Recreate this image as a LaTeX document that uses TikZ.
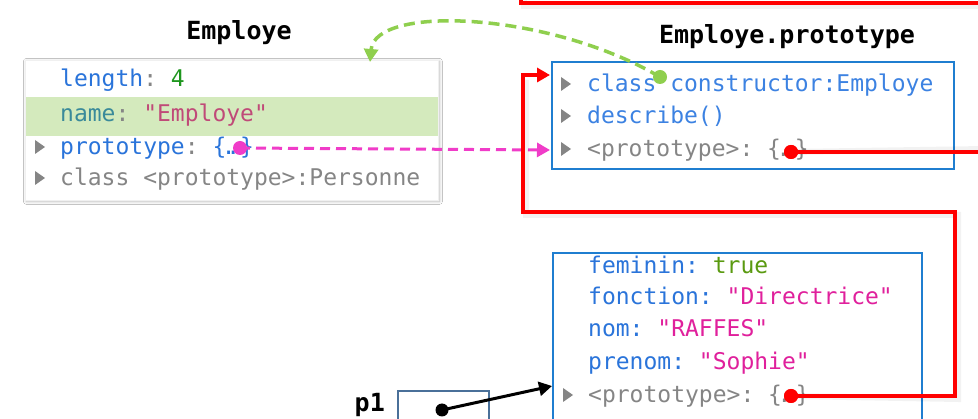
\documentclass[tikz,border=0pt]{standalone}
\usepackage{fontspec}
\setmonofont{DejaVu Sans Mono}
\usetikzlibrary{arrows.meta,shadows.blur}
\definecolor{propblue}{HTML}{2A74DA}
\definecolor{lightblue}{HTML}{3C82E2}
\definecolor{numgreen}{HTML}{1E961E}
\definecolor{truegreen}{HTML}{5A9A10}
\definecolor{strpink}{HTML}{C04A78}
\definecolor{strmag}{HTML}{E0209C}
\definecolor{teal}{HTML}{3A8A9A}
\definecolor{graytxt}{HTML}{858585}
\definecolor{hlgreen}{HTML}{D4EABD}
\definecolor{boxblue}{HTML}{1F7ED0}
\definecolor{p1blue}{HTML}{4A7099}
\definecolor{arrgreen}{HTML}{8FCF4E}
\definecolor{arrmag}{HTML}{F03CC8}
\definecolor{arrred}{HTML}{FF0000}
\begin{document}
\begin{tikzpicture}[x=1pt,y=-1pt,
  code/.style={font=\ttfamily\fontsize{23}{28}\selectfont, inner sep=0pt, anchor=base west},
  ttl/.style={font=\ttfamily\bfseries\fontsize{25}{30}\selectfont, inner sep=0pt},
  tri/.style={fill=graytxt},
  dot/.style={circle, inner sep=0pt, minimum size=14pt},
  objbox/.style={draw=boxblue, line width=1.8pt, fill=white, anchor=north west},
  redline/.style={draw=arrred, line width=4pt},
  redshadow/.style={draw=black, opacity=0.05, line width=6pt},
  tip/.style={-{Triangle[length=13pt,width=14pt]}}
]
\useasboundingbox (0,0) rectangle (978,419);
\fill[white] (0,0) rectangle (978,419);

% top red line (cropped frame)
\draw[redshadow] (524,-10) -- (524,6) -- (985,6);
\draw[redline] (521,-10) -- (521,3) -- (985,3);

% Employe box
\node[ttl] (ttlemp) at (239,33) {Employe};
\node[draw=gray!12, fill=white, line width=0.8pt, anchor=north west, minimum width=413pt, minimum height=140pt,
  blur shadow={shadow xshift=1pt, shadow yshift=-1pt, shadow blur radius=3pt, shadow opacity=30}] (empbox) at (25,60) {};
\fill[hlgreen] (25.5,97) rectangle (437.5,136);
\node[code] (e1) at (60,87) {\textcolor{propblue}{length}\textcolor{graytxt}{:} \textcolor{numgreen}{4}};
\node[code] (e2) at (60,122) {\textcolor{teal}{name}\textcolor{graytxt}{:} \textcolor{strpink}{"Employe"}};
\node[code] (e3) at (60,155) {\textcolor{propblue}{prototype}\textcolor{graytxt}{:} \textcolor{propblue}{\{…\}}};
\node[code] (e4) at (60,186) {\textcolor{graytxt}{class <prototype>:Personne}};
\fill[tri] (35,140) -- (45,147) -- (35,154) -- cycle;
\fill[tri] (35,171) -- (45,178) -- (35,185) -- cycle;

% Employe.prototype box
\node[ttl] (ttlproto) at (787,37) {Employe.prototype};
\node[objbox, minimum width=402pt, minimum height=107pt] (protobox) at (551,61) {};
\node[code] (p1a) at (587,92) {\textcolor{lightblue}{class constructor:Employe}};
\node[code] (p1b) at (587,124) {\textcolor{lightblue}{describe()}};
\node[code] (p1c) at (587,157) {\textcolor{graytxt}{<prototype>: \{…\}}};
\fill[tri] (561,77) -- (571,84) -- (561,91) -- cycle;
\fill[tri] (561,109) -- (571,116) -- (561,123) -- cycle;
\fill[tri] (561,142) -- (571,149) -- (561,156) -- cycle;

% p1 object box
\node[objbox, minimum width=369pt, minimum height=200pt] (objbox) at (552,252) {};
\node[code] (o1) at (588,274) {\textcolor{propblue}{feminin:} \textcolor{truegreen}{true}};
\node[code] (o2) at (588,305) {\textcolor{propblue}{fonction:} \textcolor{strmag}{"Directrice"}};
\node[code] (o3) at (588,337) {\textcolor{propblue}{nom:} \textcolor{strmag}{"RAFFES"}};
\node[code] (o4) at (588,370) {\textcolor{propblue}{prenom:} \textcolor{strmag}{"Sophie"}};
\node[code] (o5) at (588,403) {\textcolor{graytxt}{<prototype>: \{…\}}};
\fill[tri] (563,388) -- (573,395) -- (563,402) -- cycle;

% p1 variable
\node[ttl, anchor=base east] (p1lbl) at (385,412) {p1};
\node[draw=p1blue, line width=1.8pt, anchor=north west, minimum width=91pt, minimum height=40pt] (p1box) at (397,390) {};

% connector end points
\coordinate (empTop) at (370,62);
\coordinate (protoIn) at (550,150);
\coordinate (protoTop) at (550,75);
\coordinate (objIn) at (552,386);
\coordinate (rightOut) at (985,152);

% dots
\node[dot, fill=arrmag] (dmag) at (240,148) {};
\node[dot, fill=arrgreen] (dgreen) at (660,77) {};
\node[dot, fill=arrred] (dred1) at (791,152) {};
\node[dot, fill=arrred] (dred2) at (791,396) {};
\node[dot, fill=black, minimum size=13pt] (dblack) at (442,410) {};

% green dashed curve
\draw[draw=arrgreen, line width=3.5pt, dash pattern=on 11pt off 6pt, tip]
  (dgreen.center) .. controls (550,12) and (375,4) .. (empTop);

% magenta dashed
\draw[draw=arrmag, line width=3pt, dash pattern=on 10pt off 6pt, tip] (dmag.center) -- (protoIn);

% red connectors
\draw[redshadow] (dred1.center) -- ([yshift=3pt]rightOut);
\draw[redline] (dred1.center) -- (rightOut);
\draw[redshadow] (dred2.center) -- (958,399) -- (958,215) -- (526,215) -- (526,80);
\draw[redline, tip] (dred2.center) -- (955,396) -- (955,212) -- (523,212) -- (523,75) -- (protoTop);
\node[dot, fill=arrred] at (dred1) {};
\node[dot, fill=arrred] at (dred2) {};

% black arrow
\draw[line width=3pt, tip] (dblack.center) -- (objIn);
\end{tikzpicture}
\end{document}
